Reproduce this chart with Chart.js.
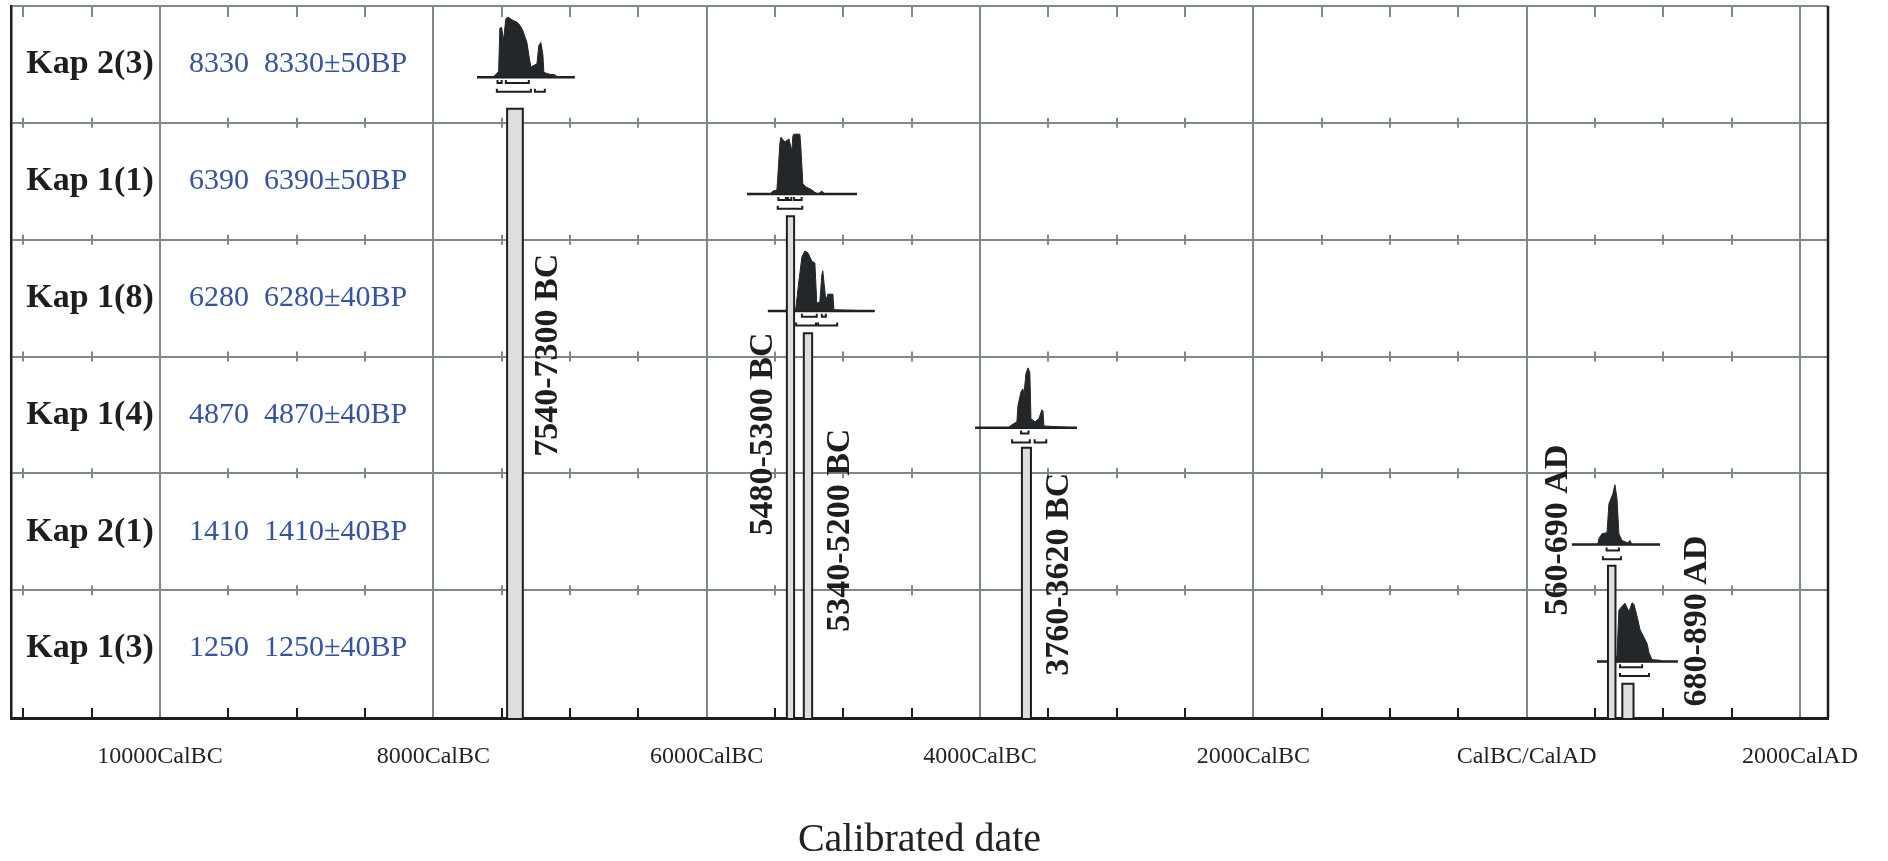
<!DOCTYPE html>
<html>
<head>
<meta charset="utf-8">
<script src="https://cdn.jsdelivr.net/npm/chart.js@4.4.1/dist/chart.umd.min.js"></script>
<style>
  html, body { margin: 0; padding: 0; background: #fff; }
  #caixa { width: 1888px; height: 861px; }
</style>
</head>
<body>
<div id="caixa"><canvas id="graficoDatas"></canvas></div>
<script>
// amostras, de cima para baixo
const amostras  = ['Kap 2(3)', 'Kap 1(1)', 'Kap 1(8)', 'Kap 1(4)', 'Kap 2(1)', 'Kap 1(3)'];
const idadesBP  = ['8330  8330±50BP', '6390  6390±50BP', '6280  6280±40BP', '4870  4870±40BP', '1410  1410±40BP', '1250  1250±40BP'];
const intervalos = ['7540-7300 BC', '5480-5300 BC', '5340-5200 BC', '3760-3620 BC', '560-690 AD', '680-890 AD'];

// barras (anos, negativo = BC) e topo da barra (unidades de linha)
const barraInicio = [-7460, -5413, -5289, -3693, 595, 700];
const barraFim    = [-7345, -5360, -5228, -3627, 650, 782];
const barraTopo   = [5.12, 4.2, 3.2, 2.22, 1.21, 0.2];

// curvas de probabilidade [ano, prob. relativa]
const curvaKap23 = [[-7680,0],[-7565,0],[-7540,0.05],[-7522,0.1],[-7513,0.82],[-7500,0.83],[-7486,0.62],[-7469,0.98],[-7450,1],[-7418,0.95],[-7388,0.92],[-7367,0.87],[-7345,0.78],[-7315,0.58],[-7301,0.37],[-7286,0.17],[-7264,0.2],[-7242,0.22],[-7228,0.53],[-7213,0.58],[-7198,0.37],[-7191,0.08],[-7147,0.05],[-7110,0.04],[-7090,0],[-6965,0]];
const curvaKap11 = [[-5705,0],[-5537,0],[-5515,0.05],[-5486,0.07],[-5479,0.3],[-5464,0.85],[-5457,0.95],[-5428,0.87],[-5398,0.92],[-5376,0.72],[-5369,0.97],[-5362,1],[-5318,1],[-5311,0.8],[-5296,0.17],[-5274,0.12],[-5237,0.08],[-5208,0.03],[-5186,0],[-5157,0.05],[-5135,0],[-4900,0]];
const curvaKap18 = [[-5552,0],[-5369,0],[-5347,0.05],[-5325,0.5],[-5303,0.9],[-5281,1],[-5259,0.97],[-5230,0.83],[-5208,0.8],[-5194,0.13],[-5172,0.15],[-5157,0.6],[-5150,0.67],[-5128,0.17],[-5113,0.28],[-5076,0.28],[-5069,0.02],[-4770,0]];
const curvaKap14 = [[-4036,0],[-3795,0],[-3766,0.05],[-3730,0.1],[-3722,0.37],[-3700,0.6],[-3686,0.65],[-3678,0.55],[-3664,0.9],[-3649,1],[-3635,0.92],[-3627,0.15],[-3598,0.1],[-3569,0.15],[-3547,0.3],[-3539,0.28],[-3532,0.03],[-3290,0]];
const curvaKap21 = [[331,0],[520,0],[529,0.1],[551,0.18],[588,0.2],[602,0.68],[631,0.85],[646,1],[661,0.77],[675,0.18],[697,0.07],[740,0.03],[756,0.07],[771,0],[976,0]];
const curvaKap13 = [[515,0],[650,0],[661,0.1],[675,0.85],[690,0.9],[719,0.97],[749,0.83],[771,0.98],[786,0.95],[808,0.75],[830,0.53],[859,0.4],[881,0.3],[895,0.15],[917,0.03],[976,0.02],[990,0],[1107,0]];
const curvas = [curvaKap23, curvaKap11, curvaKap18, curvaKap14, curvaKap21, curvaKap13];

// intervalos 1 sigma e 2 sigma (colchetes abaixo das curvas)
const sigma1 = [
  [[-7530,-7500],[-7469,-7301]],
  [[-5475,-5420],[-5405,-5380],[-5360,-5305]],
  [[-5303,-5194],[-5157,-5128]],
  [[-3700,-3645]],
  [[585,675]],
  [[683,845]]
];
const sigma2 = [
  [[-7535,-7286],[-7257,-7184]],
  [[-5480,-5300]],
  [[-5345,-5200],[-5185,-5045]],
  [[-3765,-3635],[-3600,-3515]],
  [[558,690]],
  [[683,895]]
];

// eixo x
const ticksX   = [-10000, -8000, -6000, -4000, -2000, 0, 2000];
const rotulosX = ['10000CalBC', '8000CalBC', '6000CalBC', '4000CalBC', '2000CalBC', 'CalBC/CalAD', '2000CalAD'];
const ticksMenores = [-11000, -10500, -9500, -9000, -8500, -7500, -7000, -6500, -5500, -5000, -4500, -3500, -3000, -2500, -1500, -1000, -500, 500, 1000, 1500];
const linhasY = [1, 2, 3, 4, 5, 6];

// layout
const X_MIN = -11090, X_MAX = 2205, Y_MIN = -0.094, Y_MAX = 6;
const COL_NOME = -10512, COL_BP = -8990;
const posRotulos = [[-7161, 3.01], [-5589, 2.336], [-5025, 1.514], [-3422, 1.137], [229, 1.514], [1246, 0.735]];
const ALT_PICO = 0.513, BASE_OFF = 0.39;
const CINZA = '#7e8891', PRETO = '#1e1e1e', CURVA = '#23272a';

const datasets = [];
amostras.forEach((nome, i) => {
  const base = 5 - i + BASE_OFF;

  datasets.push({
    data: [
      { x: barraInicio[i], y: Y_MIN }, { x: barraInicio[i], y: barraTopo[i] },
      { x: barraFim[i], y: barraTopo[i] }, { x: barraFim[i], y: Y_MIN }
    ],
    showLine: true, pointRadius: 0, borderColor: PRETO, borderWidth: 2,
    backgroundColor: '#dedede', fill: { value: Y_MIN }
  });

  datasets.push({
    data: curvas[i].map(([a, p]) => ({ x: a, y: base + p * ALT_PICO })),
    showLine: true, pointRadius: 0, borderColor: CURVA, borderWidth: 1,
    backgroundColor: CURVA, fill: { value: base }
  });

  const c = curvas[i];
  datasets.push({
    data: [{ x: c[0][0], y: base }, { x: c[c.length - 1][0], y: base }],
    showLine: true, pointRadius: 0, borderColor: PRETO, borderWidth: 2.5, fill: false
  });

  [[sigma1[i], base - 0.05], [sigma2[i], base - 0.125]].forEach(([lista, nivel]) => {
    lista.forEach(([a, b]) => {
      datasets.push({
        data: [{ x: a, y: nivel + 0.026 }, { x: a, y: nivel }, { x: b, y: nivel }, { x: b, y: nivel + 0.026 }],
        showLine: true, pointRadius: 0, borderColor: PRETO, borderWidth: 2, fill: false
      });
    });
  });
});

const textos = {
  id: 'textos',
  beforeDatasetsDraw(chart) {
    const { ctx, chartArea: ca, scales: { x, y } } = chart;
    ctx.save();
    ctx.lineWidth = 2;
    ticksMenores.forEach(v => {
      const px = Math.round(x.getPixelForValue(v));
      ctx.strokeStyle = CINZA;
      linhasY.forEach(r => {
        const py = y.getPixelForValue(r);
        ctx.beginPath();
        if (r === Y_MAX) { ctx.moveTo(px, py); ctx.lineTo(px, py + 11); }
        else { ctx.moveTo(px, py - 5); ctx.lineTo(px, py + 5); }
        ctx.stroke();
      });
      ctx.strokeStyle = PRETO;
      ctx.beginPath();
      ctx.moveTo(px, ca.bottom); ctx.lineTo(px, ca.bottom - 10);
      ctx.stroke();
    });
    ctx.strokeStyle = PRETO;
    ctx.lineWidth = 2.5;
    ctx.beginPath();
    ctx.moveTo(ca.right, ca.top); ctx.lineTo(ca.right, ca.bottom);
    ctx.stroke();
    ctx.restore();
  },
  afterDatasetsDraw(chart) {
    const { ctx, scales: { x, y } } = chart;
    ctx.save();
    ctx.textAlign = 'center';
    ctx.textBaseline = 'middle';
    amostras.forEach((nome, i) => {
      const py = y.getPixelForValue(5.5 - i);
      ctx.fillStyle = PRETO;
      ctx.font = 'bold 34px "Liberation Serif"';
      ctx.fillText(nome, x.getPixelForValue(COL_NOME), py);
      ctx.fillStyle = '#3553a0';
      ctx.font = '30px "Liberation Serif"';
      ctx.fillText(idadesBP[i], x.getPixelForValue(COL_BP), py);

      ctx.save();
      ctx.translate(x.getPixelForValue(posRotulos[i][0]), y.getPixelForValue(posRotulos[i][1]));
      ctx.rotate(-Math.PI / 2);
      ctx.fillStyle = PRETO;
      ctx.font = 'bold 34px "Liberation Serif"';
      ctx.fillText(intervalos[i], 0, 0);
      ctx.restore();
    });
    ctx.restore();
  }
};

new Chart(document.getElementById('graficoDatas'), {
  type: 'scatter',
  data: { datasets },
  options: {
    responsive: true,
    maintainAspectRatio: false,
    animation: false,
    devicePixelRatio: 1,
    layout: { padding: { left: 11, right: 60, top: 6, bottom: 0 } },
    plugins: { legend: { display: false }, tooltip: { enabled: false } },
    scales: {
      x: {
        type: 'linear', min: X_MIN, max: X_MAX,
        afterBuildTicks: s => { s.ticks = ticksX.map(v => ({ value: v })); },
        afterFit: s => { s.height = 143; },
        grid: { color: CINZA, lineWidth: 2, drawTicks: false },
        border: { display: true, color: PRETO, width: 3 },
        ticks: {
          autoSkip: false, maxRotation: 0, padding: 24, color: '#222',
          font: { family: 'Liberation Serif', size: 24 },
          callback: (v, i) => rotulosX[i]
        },
        title: {
          display: true, text: 'Calibrated date', color: '#222', padding: 0,
          font: { family: 'Liberation Serif', size: 40, lineHeight: 1.05 }
        }
      },
      y: {
        type: 'linear', min: Y_MIN, max: Y_MAX,
        afterBuildTicks: s => { s.ticks = linhasY.map(v => ({ value: v })); },
        afterFit: s => { s.width = 0; },
        grid: { color: CINZA, lineWidth: 2, drawTicks: false },
        border: { display: true, color: PRETO, width: 2.5 },
        ticks: { display: false }
      }
    }
  },
  plugins: [textos]
});
</script>
</body>
</html>
